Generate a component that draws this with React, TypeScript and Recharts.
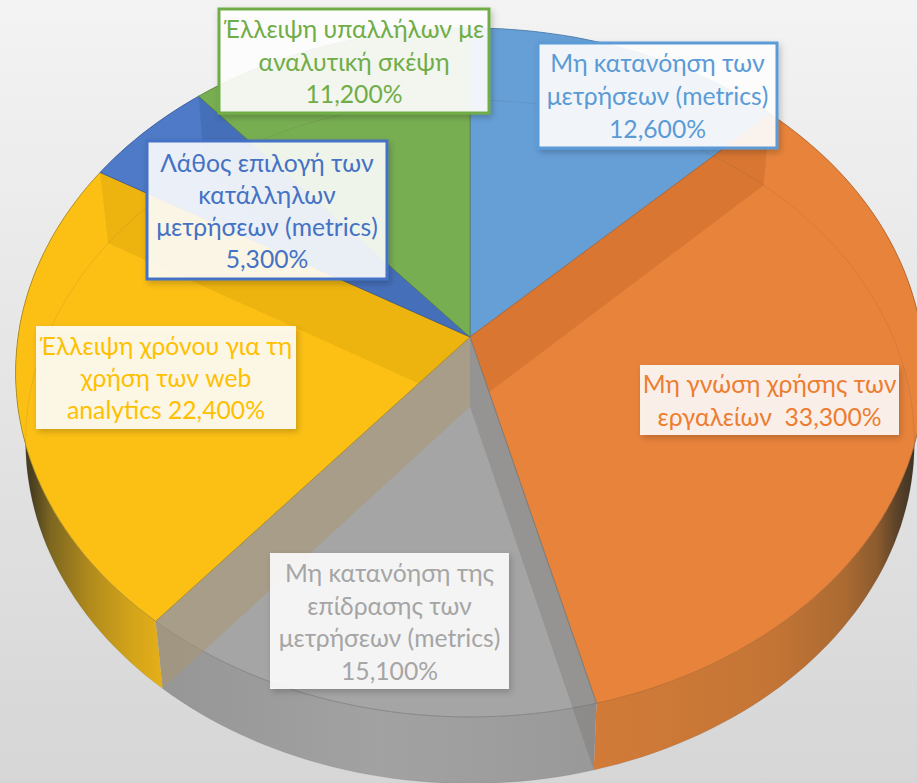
import { Pie, PieChart } from "recharts";

const categories = [
  "Μη κατανόηση των μετρήσεων (metrics)",
  "Μη γνώση χρήσης των εργαλείων",
  "Μη κατανόηση της επίδρασης των μετρήσεων (metrics)",
  "Έλλειψη χρόνου για τη χρήση των web analytics",
  "Λάθος επιλογή των κατάλληλων μετρήσεων (metrics)",
  "Έλλειψη υπαλλήλων με αναλυτική σκέψη",
];
const values = [12.6, 33.3, 15.1, 22.4, 5.3, 11.2];
const labelLines = [
  ["Μη κατανόηση των", "μετρήσεων (metrics)", "12,600%"],
  ["Μη γνώση χρήσης των", "εργαλείων  33,300%"],
  ["Μη κατανόηση της", "επίδρασης των", "μετρήσεων (metrics)", "15,100%"],
  ["Έλλειψη χρόνου για τη", "χρήση των web", "analytics 22,400%"],
  ["Λάθος επιλογή των", "κατάλληλων", "μετρήσεων (metrics)", "5,300%"],
  ["Έλλειψη υπαλλήλων με", "αναλυτική σκέψη", "11,200%"],
];

const data = categories.map((name, i) => ({ name, value: values[i] }));

const FACE_COLORS = ["#669fd6", "#e8833b", "#a5a5a5", "#fcc015", "#4f7ac7", "#78ae52"];
const EDGE_COLORS = ["#4d7aa6", "#b5662c", "#7c7c7c", "#a88a20", "#3c5c96", "#5a8440"];
const BAND_COLORS = [
  "none",
  "rgba(180,90,30,0.3)",
  "rgba(110,105,100,0.28)",
  "rgba(170,150,110,0.5)",
  "rgba(190,140,0,0.25)",
  "rgba(40,80,140,0.25)",
];
const TEXT_COLORS = ["#5b9bd5", "#ed7d31", "#a5a5a5", "#ffc000", "#4472c4", "#70ad47"];
const BOX_FILLS = [
  "rgba(255,255,255,0.9)",
  "rgba(255,255,255,0.87)",
  "rgba(255,255,255,0.88)",
  "rgba(255,255,255,0.88)",
  "rgba(255,255,255,0.88)",
  "rgba(255,255,255,0.9)",
];
const BOX_BORDERS = ["#5b9bd5", "none", "none", "none", "#4472c4", "#70ad47"];
// the slice a wall band must stay inside, when it would spill over a neighbour
const BAND_HOST = [-1, -1, -1, -1, 3, 4];

// x, y, w, h and the first baseline of each label box
const LABEL_BOXES = [
  { x: 538, y: 43, w: 239, h: 105, base: 72, pitch: 33 },
  { x: 640, y: 365, w: 259, h: 70, base: 393, pitch: 33 },
  { x: 270, y: 553, w: 239, h: 136, base: 582, pitch: 32.5 },
  { x: 36, y: 326, w: 260, h: 103, base: 355, pitch: 32 },
  { x: 147, y: 141, w: 240, h: 138, base: 172, pitch: 32 },
  { x: 219, y: 9, w: 270, h: 104, base: 38, pitch: 32.5 },
];

const WIDTH = 917;
const HEIGHT = 783;
const CX = 470;
const CY = 337;
const RADIUS = 452;

// perspective of the tilted disc, fitted on the slice corners
const TILT = -0.103;
const SQUASH = 0.754;
const FLOOR_DROP = 69.6;
const FLOOR_SCALE = 0.978;

const project = (deg: number, floor: boolean, cx: number, cy: number, r: number) => {
  const a = (deg * Math.PI) / 180;
  const X = Math.cos(a);
  const Y = -Math.sin(a);
  const den = 1 + TILT * Y;
  const R = floor ? r * FLOOR_SCALE : r;
  const y0 = floor ? cy + FLOOR_DROP : cy;
  const S = floor ? r * 0.748 : r * SQUASH;
  return [cx + (R * X) / den, y0 + (S * Y) / den];
};

const arc = (from: number, to: number, floor: boolean, cx: number, cy: number, r: number) => {
  const steps = Math.max(2, Math.ceil(Math.abs(to - from) / 1.5));
  const pts: number[][] = [];
  for (let i = 0; i <= steps; i++) {
    pts.push(project(from + ((to - from) * i) / steps, floor, cx, cy, r));
  }
  return pts;
};

const toPath = (pts: number[][]) =>
  "M" + pts.map((p) => `${p[0].toFixed(1)},${p[1].toFixed(1)}`).join("L") + "Z";

const WallShape = (props: any) => {
  const { cx, cy, outerRadius, startAngle, endAngle, index } = props;
  const top = arc(startAngle, endAngle, false, cx, cy, outerRadius);
  const bottom = arc(endAngle, startAngle, true, cx, cy, outerRadius);
  const fill = index >= 1 && index <= 3 ? `url(#wall-${index})` : FACE_COLORS[index];
  return <path d={toPath([...top, ...bottom])} fill={fill} stroke="none" />;
};

const FaceShape = (props: any) => {
  const { cx, cy, outerRadius, startAngle, endAngle, index } = props;
  const rim = arc(startAngle, endAngle, false, cx, cy, outerRadius);
  const a = project(startAngle, false, cx, cy, outerRadius);
  const b = project(startAngle, true, cx, cy, outerRadius);
  const host = BAND_HOST[index];
  const hostRim =
    host >= 0
      ? arc(startAngle + values[host] * 3.6, startAngle, false, cx, cy, outerRadius)
      : null;
  return (
    <g>
      <path
        d={toPath([[cx, cy], ...rim])}
        fill={FACE_COLORS[index]}
        stroke={EDGE_COLORS[index]}
        strokeWidth={0.8}
      />
      {hostRim && (
        <clipPath id={`band-clip-${index}`}>
          <path d={toPath([[cx, cy], ...hostRim])} />
        </clipPath>
      )}
      <path
        d={toPath([[cx, cy], a, b, [cx, cy + FLOOR_DROP]])}
        fill={BAND_COLORS[index]}
        stroke="none"
        clipPath={hostRim ? `url(#band-clip-${index})` : undefined}
      />
    </g>
  );
};

const FloorLine = (props: any) => {
  const { cx, cy, outerRadius, startAngle, endAngle } = props;
  const pts = arc(startAngle, endAngle, true, cx, cy, outerRadius);
  const d = "M" + pts.map((p) => `${p[0].toFixed(1)},${p[1].toFixed(1)}`).join("L");
  return <path d={d} fill="none" stroke="rgba(60,60,60,0.1)" strokeWidth={1} />;
};

const renderLabel = (props: any) => {
  const i = props.index;
  const box = LABEL_BOXES[i];
  const hasBorder = BOX_BORDERS[i] !== "none";
  return (
    <g key={categories[i]}>
      <rect
        x={box.x}
        y={box.y}
        width={box.w}
        height={box.h}
        fill={BOX_FILLS[i]}
        stroke={BOX_BORDERS[i]}
        strokeWidth={hasBorder ? 3 : 0}
        filter="url(#box-shadow)"
      />
      {labelLines[i].map((line, n) => (
        <text
          key={n}
          x={box.x + box.w / 2}
          y={box.base + n * box.pitch}
          textAnchor="middle"
          fill={TEXT_COLORS[i]}
          fontFamily="Lato, 'Noto Sans', sans-serif"
          fontSize={24.7}
          style={{ whiteSpace: "pre" }}
        >
          {line}
        </text>
      ))}
    </g>
  );
};

const sharedPie = {
  data,
  dataKey: "value",
  nameKey: "name",
  cx: CX,
  cy: CY,
  innerRadius: 0,
  outerRadius: RADIUS,
  startAngle: 90,
  endAngle: -270,
  stroke: "none",
  labelLine: false,
  isAnimationActive: false,
};

export default function App() {
  return (
    <div
      style={{
        position: "fixed",
        left: 0,
        top: 0,
        width: WIDTH,
        height: HEIGHT,
        overflow: "hidden",
        background: "linear-gradient(180deg, #f3f3f3 0%, #e4e4e4 52%, #d6d6d6 100%)",
      }}
    >
      <PieChart width={WIDTH} height={HEIGHT} margin={{ top: 0, right: 0, bottom: 0, left: 0 }}>
        <defs>
          <linearGradient id="wall-1" gradientUnits="userSpaceOnUse" x1="593" y1="0" x2="917" y2="0">
            <stop offset="0" stopColor="#d27b38" />
            <stop offset="0.55" stopColor="#c47535" />
            <stop offset="0.78" stopColor="#ab6a32" />
            <stop offset="0.88" stopColor="#8a5a2e" />
            <stop offset="0.94" stopColor="#5a4229" />
            <stop offset="1" stopColor="#3a3024" />
          </linearGradient>
          <linearGradient id="wall-2" gradientUnits="userSpaceOnUse" x1="160" y1="0" x2="597" y2="0">
            <stop offset="0" stopColor="#969696" />
            <stop offset="0.5" stopColor="#a2a2a2" />
            <stop offset="1" stopColor="#999999" />
          </linearGradient>
          <linearGradient id="wall-3" gradientUnits="userSpaceOnUse" x1="14" y1="0" x2="165" y2="0">
            <stop offset="0" stopColor="#3e3820" />
            <stop offset="0.12" stopColor="#4a4020" />
            <stop offset="0.24" stopColor="#7c6620" />
            <stop offset="0.5" stopColor="#b08a1c" />
            <stop offset="0.77" stopColor="#d2a31a" />
            <stop offset="1" stopColor="#e6b018" />
          </linearGradient>
          <filter id="box-shadow" x="-10%" y="-10%" width="125%" height="125%">
            <feDropShadow dx="2" dy="3" stdDeviation="3" floodColor="#000000" floodOpacity="0.22" />
          </filter>
        </defs>
        <Pie {...sharedPie} shape={WallShape} />
        <Pie {...sharedPie} shape={FaceShape} />
        <Pie {...sharedPie} shape={FloorLine} label={renderLabel} />
      </PieChart>
    </div>
  );
}
